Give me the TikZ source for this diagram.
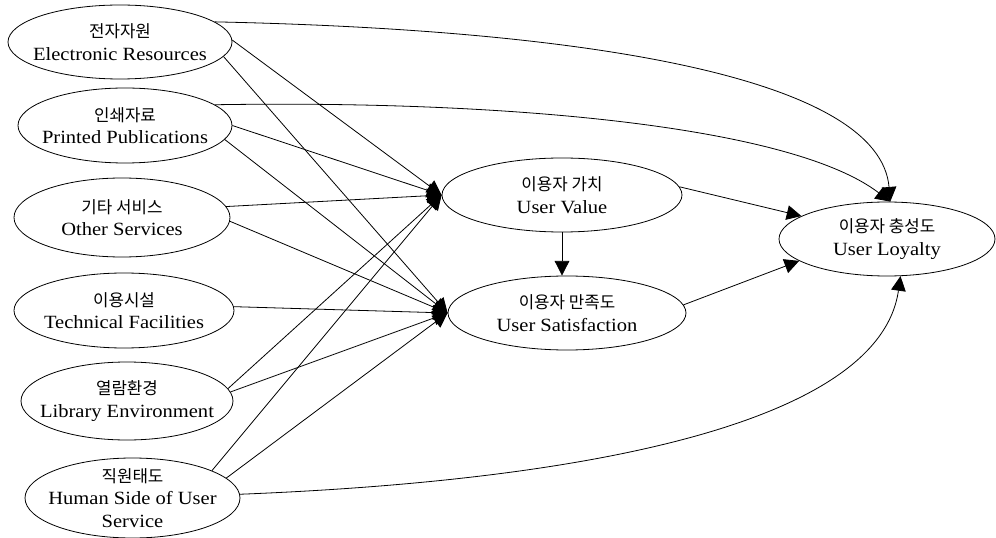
\documentclass[tikz,border=0pt]{standalone}
\usepackage{fontspec}
\setmainfont{Liberation Serif}[FakeStretch=1.1]
\newfontfamily\kr{Noto Sans CJK KR}[Scale=0.9]
\usetikzlibrary{shapes.geometric,arrows.meta}
\begin{document}
\begin{tikzpicture}[x=0.75pt,y=-0.75pt,
  ell/.style={ellipse,draw,line width=0.6pt,inner sep=0pt},
  lbl/.style={align=center,font=\fontsize{14pt}{17pt}\selectfont,inner sep=0pt},
  conn/.style={line width=0.6pt,-{Triangle[length=11pt,width=11pt]}}
]
\useasboundingbox (0,0) rectangle (996,538);

\node[ell,minimum width=168pt,minimum height=55.5pt,label={[lbl]center:{{\kr 전자자원}\\Electronic Resources}}] (er) at (120,42) {};
\node[ell,minimum width=160.5pt,minimum height=56.25pt,label={[lbl]center:{{\kr 인쇄자료}\\Printed Publications}}] (pp) at (125,125.5) {};
\node[ell,minimum width=162pt,minimum height=59.25pt,label={[lbl]center:{{\kr 기타 서비스}\\Other Services}}] (os) at (122,217.5) {};
\node[ell,minimum width=165pt,minimum height=56.25pt,label={[lbl]center:{{\kr 이용시설}\\Technical Facilities}}] (tf) at (124,310.5) {};
\node[ell,minimum width=159pt,minimum height=58.5pt,label={[lbl]center:{{\kr 열람환경}\\Library Environment}}] (le) at (127,401) {};
\node[ell,minimum width=161.25pt,minimum height=60pt,label={[lbl]center:{{\kr 직원태도}\\Human Side of User\\Service}}] (hs) at (132.5,498) {};

\node[ell,minimum width=180pt,minimum height=55.5pt,label={[lbl]center:{{\kr 이용자 가치}\\User Value}}] (uv) at (562,195) {};
\node[ell,minimum width=178.5pt,minimum height=55.5pt,label={[lbl]center:{{\kr 이용자 만족도}\\User Satisfaction}}] (us) at (567,313) {};
\node[ell,minimum width=162pt,minimum height=55.5pt,label={[lbl]center:{{\kr 이용자 충성도}\\User Loyalty}}] (ul) at (887,239) {};

\draw[conn] (er.12.5) .. controls (600,30) and (880,80) .. (ul.85);
\draw[conn] (er.1.6) -- (uv.west);
\draw[conn] (er.-8) -- (us.west);
\draw[conn] (pp.13.6) .. controls (500,100) and (790,125) .. (ul.85);
\draw[conn] (pp.0) -- (uv.west);
\draw[conn] (pp.-8) -- (us.west);
\draw[conn] (os.6) -- (uv.west);
\draw[conn] (os.-2.4) -- (us.west);
\draw[conn] (tf.2.8) -- (us.west);
\draw[conn] (le.7.2) -- (uv.west);
\draw[conn] (le.5.4) -- (us.west);
\draw[conn] (hs.19.4) -- (uv.west);
\draw[conn] (hs.12.8) -- (us.west);
\draw[conn] (hs.2.2) .. controls (600,480) and (880,420) .. (ul.290);
\draw[conn] (uv.4.8) -- (ul.165.4);
\draw[conn] (us.4.4) -- (ul.194);
\draw[conn] (uv.south) -- (uv.south |- us.north);
\end{tikzpicture}
\end{document}
